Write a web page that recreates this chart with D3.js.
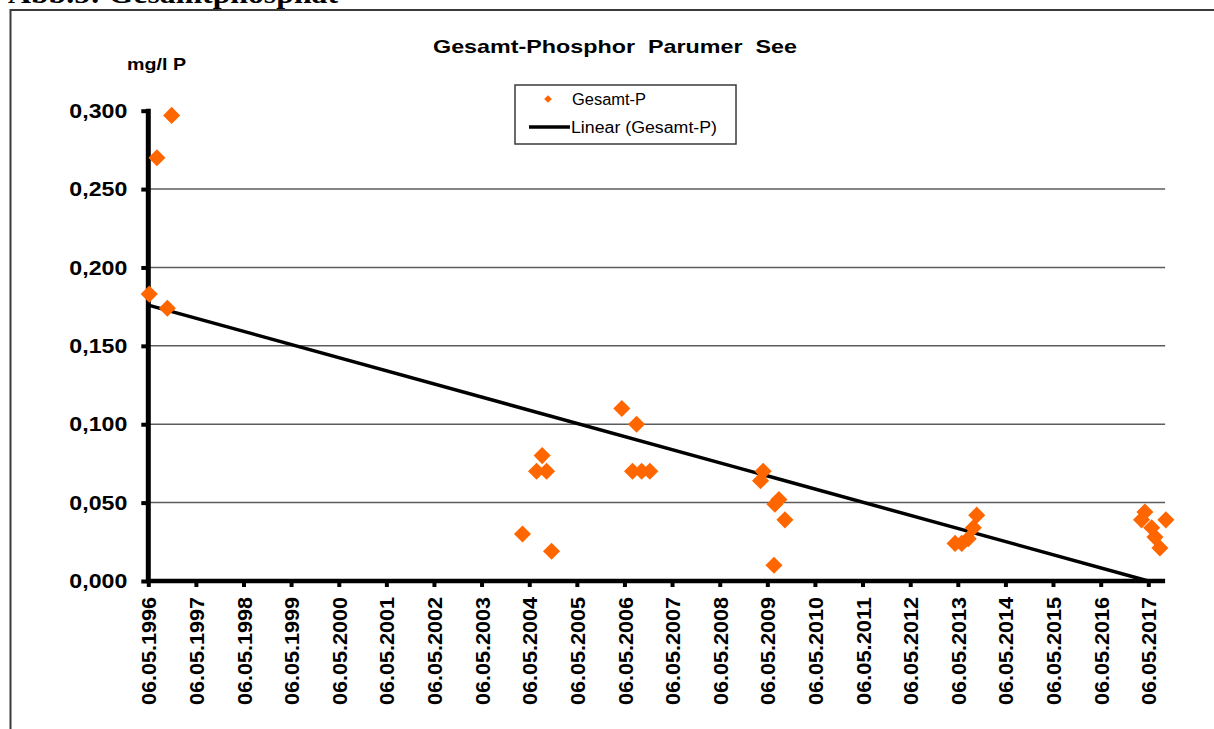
<!DOCTYPE html>
<html lang="de">
<head>
<meta charset="utf-8">
<title>Gesamt-Phosphor Parumer See</title>
<script src="https://cdn.jsdelivr.net/npm/d3@7"></script>
<style>
	html, body { margin: 0; padding: 0; background: #fff; }
	svg { display: block; }
</style>
</head>
<body>
<svg id="chart"></svg>
<script>
'use strict';

// Gesamt-Phosphor Parumer See - scatter with linear trend (D3 + SVG).

// ----------------------- data -------------------------------------------

const sampleDates = [
	'13.05.1996', '11.07.1996', '29.09.1996', '01.11.1996',
	'15.03.2004', '01.07.2004', '13.08.2004', '16.09.2004', '24.10.2004',
	'16.04.2006', '07.07.2006', '07.08.2006', '15.09.2006', '17.11.2006',
	'15.03.2009', '04.04.2009', '26.06.2009', '03.07.2009', '03.08.2009', '18.09.2009',
	'15.04.2013', '05.06.2013', '25.07.2013', '02.09.2013', '28.09.2013',
	'15.03.2017', '10.04.2017', '01.06.2017', '26.06.2017', '03.08.2017', '18.09.2017'
];

const gesamtP = [
	0.183, 0.270, 0.174, 0.297,
	0.030, 0.070, 0.080, 0.070, 0.019,
	0.110, 0.070, 0.100, 0.070, 0.070,
	0.064, 0.070, 0.010, 0.049, 0.052, 0.039,
	0.024, 0.024, 0.027, 0.034, 0.042,
	0.039, 0.044, 0.034, 0.028, 0.021, 0.039
];

// Excel trendline as drawn: from first to last category tick
const trendDates = ['06.05.1996', '06.05.2017'];
const trendValues = [0.176, 0.000];

const tickLabels = [
	'06.05.1996', '06.05.1997', '06.05.1998', '06.05.1999', '06.05.2000',
	'06.05.2001', '06.05.2002', '06.05.2003', '06.05.2004', '06.05.2005',
	'06.05.2006', '06.05.2007', '06.05.2008', '06.05.2009', '06.05.2010',
	'06.05.2011', '06.05.2012', '06.05.2013', '06.05.2014', '06.05.2015',
	'06.05.2016', '06.05.2017'
];

const yTicks = [0, 0.05, 0.10, 0.15, 0.20, 0.25, 0.30];
const gridValues = [0.05, 0.10, 0.15, 0.20, 0.25];
const axisEndDate = '12.09.2017';

// ----------------------- layout -----------------------------------------

const W = 1214, H = 729;
const PLOT = { left: 148.3, firstTick: 148.3, lastTick: 1148.3, top: 110.7, bottom: 581 };
const COLORS = {
	point: '#ff6600',
	trend: '#000',
	grid: '#5c5c5c',
	frame: '#3a3a3a',
	text: '#000'
};
const SANS = 'Arial, "Liberation Sans", sans-serif';
const SERIF = '"Times New Roman", "Liberation Serif", serif';

const parse = d3.timeParse('%d.%m.%Y');
const points = sampleDates.map((d, i) => ({ date: parse(d), value: gesamtP[i] }));
const trend = trendDates.map((d, i) => ({ date: parse(d), value: trendValues[i] }));
const tickDates = tickLabels.map(parse);

const x = d3.scaleTime()
	.domain([parse(tickLabels[0]), parse(tickLabels[tickLabels.length - 1])])
	.range([PLOT.firstTick, PLOT.lastTick]);
const y = d3.scaleLinear().domain([0, 0.3]).range([PLOT.bottom, PLOT.top]);
const xEnd = x(parse(axisEndDate));

const svg = d3.select('#chart').attr('width', W).attr('height', H);

// ----------------------- frame + header ---------------------------------

// page caption above the chart frame; the reference shows only its lower part
svg.append('text')
	.attr('x', 8).attr('y', 3)
	.attr('font-family', SERIF).attr('font-weight', 'bold').attr('font-size', 27)
	.attr('textLength', 330).attr('lengthAdjust', 'spacingAndGlyphs')
	.text('Abb.5: Gesamtphosphat');

svg.append('rect')
	.attr('x', 10.5).attr('y', 10).attr('width', W).attr('height', H)
	.attr('fill', '#fff').attr('stroke', COLORS.frame).attr('stroke-width', 2);

svg.append('text')
	.attr('x', 615).attr('y', 53).attr('text-anchor', 'middle')
	.attr('font-family', SANS).attr('font-weight', 'bold').attr('font-size', 18.5)
	.attr('textLength', 364).attr('lengthAdjust', 'spacingAndGlyphs')
	.attr('xml:space', 'preserve')
	.text('Gesamt-Phosphor  Parumer  See');

svg.append('text')
	.attr('x', 127).attr('y', 70)
	.attr('font-family', SANS).attr('font-weight', 'bold').attr('font-size', 17)
	.attr('textLength', 59).attr('lengthAdjust', 'spacingAndGlyphs')
	.text('mg/l P');

// ----------------------- grid -------------------------------------------

svg.append('g')
	.selectAll('line')
	.data(gridValues)
	.join('line')
	.attr('x1', PLOT.left).attr('x2', xEnd)
	.attr('y1', (d) => y(d)).attr('y2', (d) => y(d))
	.attr('stroke', COLORS.grid).attr('stroke-width', 1.5);

// ----------------------- axes -------------------------------------------

const yAxis = d3.axisLeft(y)
	.tickValues(yTicks)
	.tickSize(7)
	.tickSizeOuter(0)
	.tickPadding(14)
	.tickFormat((d) => d.toFixed(3).replace('.', ','));

const gy = svg.append('g')
	.attr('transform', `translate(${PLOT.left},0)`)
	.call(yAxis);
gy.select('.domain').remove();
gy.selectAll('.tick line').attr('stroke', '#000').attr('stroke-width', 4);
gy.selectAll('.tick text')
	.attr('font-family', SANS).attr('font-weight', 'bold').attr('font-size', 21)
	.attr('fill', COLORS.text)
	.attr('textLength', 58).attr('lengthAdjust', 'spacingAndGlyphs');

const xAxis = d3.axisBottom(x)
	.tickValues(tickDates)
	.tickSize(6)
	.tickSizeOuter(0)
	.tickFormat(d3.timeFormat('%d.%m.%Y'));

const gx = svg.append('g')
	.attr('transform', `translate(0,${PLOT.bottom})`)
	.call(xAxis);
gx.select('.domain').remove();
gx.selectAll('.tick line').attr('stroke', '#000').attr('stroke-width', 4);
gx.selectAll('.tick text')
	.attr('font-family', SANS).attr('font-weight', 'bold').attr('font-size', 21)
	.attr('fill', COLORS.text)
	.attr('text-anchor', 'end')
	.attr('transform', 'rotate(-90)')
	.attr('x', -16).attr('y', 0).attr('dy', '0.36em')
	.attr('textLength', 108).attr('lengthAdjust', 'spacingAndGlyphs');

// thick axis lines
svg.append('line')
	.attr('x1', PLOT.left).attr('x2', PLOT.left)
	.attr('y1', PLOT.top - 2).attr('y2', PLOT.bottom + 2)
	.attr('stroke', '#000').attr('stroke-width', 5);
svg.append('line')
	.attr('x1', PLOT.left - 2).attr('x2', xEnd)
	.attr('y1', PLOT.bottom).attr('y2', PLOT.bottom)
	.attr('stroke', '#000').attr('stroke-width', 4.5);

// ----------------------- marks ------------------------------------------

svg.append('path')
	.datum(trend)
	.attr('fill', 'none')
	.attr('stroke', COLORS.trend).attr('stroke-width', 3.5)
	.attr('d', d3.line().x((d) => x(d.date)).y((d) => y(d.value)));

const diamond = d3.symbol().type(d3.symbolSquare).size(146);

svg.append('g')
	.selectAll('path')
	.data(points)
	.join('path')
	.attr('d', diamond)
	.attr('transform', (d) => `translate(${x(d.date)},${y(d.value)}) rotate(45)`)
	.attr('fill', COLORS.point);

// ----------------------- legend -----------------------------------------

const legend = svg.append('g');
legend.append('rect')
	.attr('x', 515).attr('y', 85).attr('width', 221).attr('height', 59)
	.attr('fill', '#fff').attr('stroke', COLORS.frame).attr('stroke-width', 1.5);
legend.append('path')
	.attr('d', d3.symbol().type(d3.symbolSquare).size(30))
	.attr('transform', 'translate(548,99) rotate(45)')
	.attr('fill', COLORS.point);
legend.append('text')
	.attr('x', 572).attr('y', 105)
	.attr('font-family', SANS).attr('font-size', 16)
	.attr('textLength', 74).attr('lengthAdjust', 'spacingAndGlyphs')
	.text('Gesamt-P');
legend.append('line')
	.attr('x1', 529).attr('x2', 570).attr('y1', 127).attr('y2', 127)
	.attr('stroke', COLORS.trend).attr('stroke-width', 3.5);
legend.append('text')
	.attr('x', 571).attr('y', 133)
	.attr('font-family', SANS).attr('font-size', 16)
	.attr('textLength', 146).attr('lengthAdjust', 'spacingAndGlyphs')
	.text('Linear (Gesamt-P)');
</script>
</body>
</html>
